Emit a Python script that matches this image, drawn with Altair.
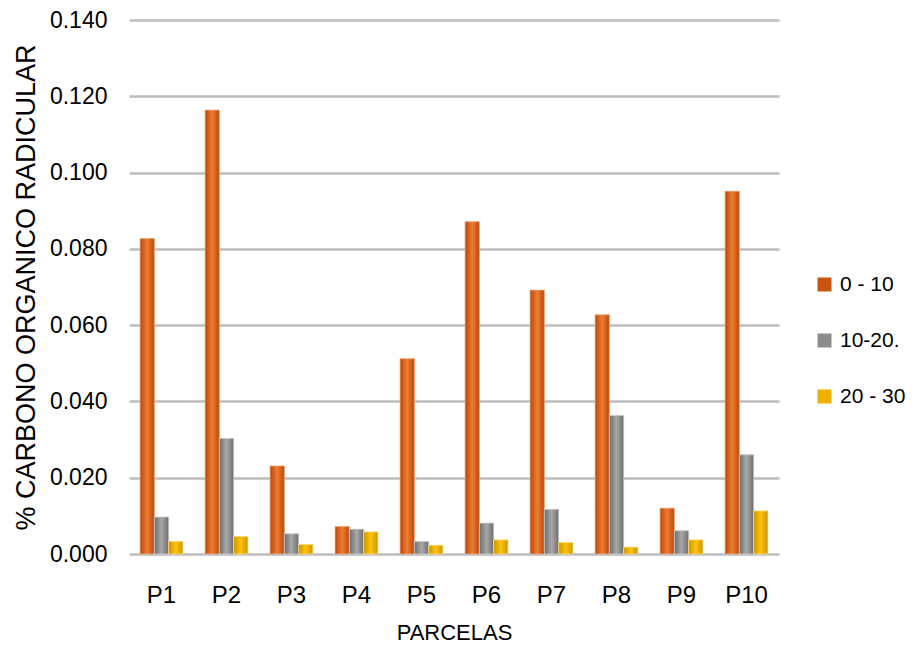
import altair as alt
import pandas as pd

parcelas = ["P1", "P2", "P3", "P4", "P5", "P6", "P7", "P8", "P9", "P10"]
series = ["0 - 10", "10-20.", "20 - 30"]
v_0_10 = [0.0827, 0.1164, 0.0231, 0.0072, 0.0512, 0.0871, 0.0692, 0.0627, 0.0120, 0.0951]
v_10_20 = [0.0097, 0.0303, 0.0053, 0.0065, 0.0033, 0.0081, 0.0117, 0.0363, 0.0061, 0.0260]
v_20_30 = [0.0033, 0.0046, 0.0025, 0.0058, 0.0023, 0.0037, 0.0030, 0.0018, 0.0037, 0.0113]
y_ticks = [0.0, 0.02, 0.04, 0.06, 0.08, 0.10, 0.12, 0.14]

rows = []
for s, vals in zip(series, [v_0_10, v_10_20, v_20_30]):
    for p, v in zip(parcelas, vals):
        rows.append({"parcela": p, "serie": s, "valor": v})
df = pd.DataFrame(rows)

FONT = "Liberation Sans, Arial, sans-serif"
legend_colors = ["#C9560F", "#8C8C8C", "#F0B000"]
gradients = [
    ["#B8470A", "#EE7D32", "#B8470A"],
    ["#6E6E6E", "#A8A8A8", "#6E6E6E"],
    ["#C99600", "#FFC20A", "#C99600"],
]
strokes = ["#F3B08A", "#CFCFCF", "#FFE08A"]

x_enc = alt.X(
    "parcela:N",
    sort=parcelas,
    scale=alt.Scale(paddingInner=0.34, paddingOuter=0.17),
    axis=alt.Axis(
        title="PARCELAS",
        labelAngle=0,
        labelFont=FONT,
        labelFontSize=24,
        labelColor="#000000",
        labelPadding=29,
        ticks=False,
        domain=False,
        titleFont=FONT,
        titleFontSize=22,
        titleFontWeight="normal",
        titleColor="#000000",
        titlePadding=15,
    ),
)
xoff_enc = alt.XOffset("serie:N", scale=alt.Scale(domain=series))
y_enc = alt.Y(
    "valor:Q",
    scale=alt.Scale(domain=[0, 0.14], nice=False),
    axis=alt.Axis(
        title="% CARBONO ORGANICO RADICULAR",
        values=y_ticks,
        format=".3f",
        labelFont=FONT,
        labelFontSize=23,
        labelColor="#000000",
        labelPadding=22,
        ticks=False,
        domain=False,
        grid=True,
        gridColor="#BDBDBD",
        gridWidth=2.5,
        titleFont=FONT,
        titleFontSize=27,
        titleFontWeight="normal",
        titleColor="#000000",
        titleX=-103,
        titleY=267,
        titleAngle=-90,
        titleAlign="center",
        titleBaseline="middle",
    ),
)

base = alt.Chart(df)
legend_layer = base.mark_bar().encode(
    x=x_enc,
    xOffset=xoff_enc,
    y=y_enc,
    color=alt.Color(
        "serie:N",
        scale=alt.Scale(domain=series, range=legend_colors),
        legend=alt.Legend(
            title=None,
            orient="none",
            legendX=685,
            legendY=254,
            labelFont=FONT,
            labelFontSize=21,
            labelColor="#000000",
            symbolType="square",
            symbolSize=196,
            symbolStrokeWidth=0,
            rowPadding=34,
            labelOffset=5,
        ),
    ),
)

layers = [legend_layer]
for s, g, st in zip(series, gradients, strokes):
    grad = alt.LinearGradient(
        gradient="linear",
        stops=[
            alt.GradientStop(color=g[0], offset=0),
            alt.GradientStop(color=g[1], offset=0.5),
            alt.GradientStop(color=g[2], offset=1),
        ],
        x1=0, x2=1, y1=0, y2=0,
    )
    layers.append(
        base.transform_filter(alt.datum.serie == s)
        .mark_bar(fill=grad, stroke=st, strokeWidth=0.8)
        .encode(x=x_enc, xOffset=xoff_enc, y=y_enc)
    )

chart = (
    alt.layer(*layers)
    .properties(
        width=650,
        height=534,
        autosize=alt.AutoSizeParams(type="none"),
        padding={"left": 121, "top": 12, "right": 128, "bottom": 90},
        background="#FFFFFF",
    )
    .configure_view(stroke=None)
)

chart.save("out.html", embed_options={"renderer": "svg", "actions": False})
